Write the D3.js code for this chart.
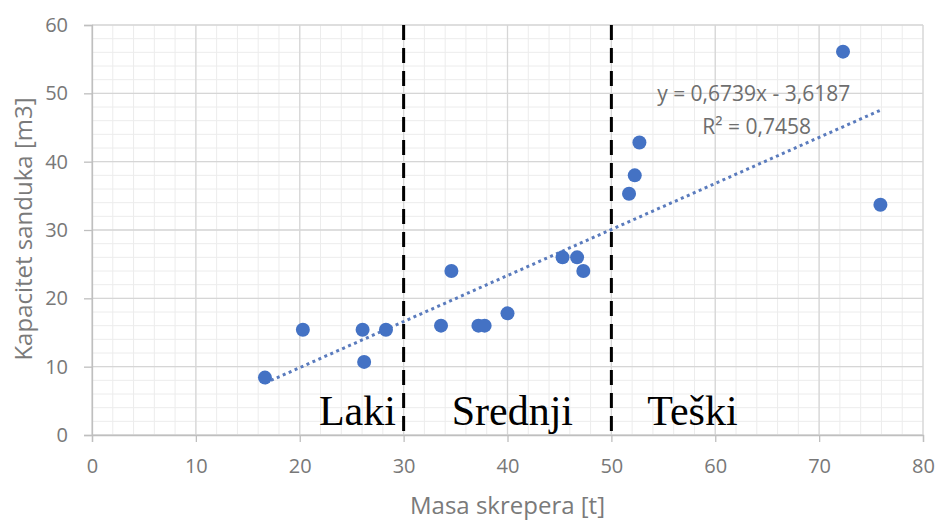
<!DOCTYPE html>
<html>
<head>
<meta charset="utf-8">
<script src="https://cdn.jsdelivr.net/npm/d3@7"></script>
<style>
    html, body { margin: 0; padding: 0; background: #fff; }
    svg { display: block; }
</style>
</head>
<body>
<div id="chart"></div>
<script>
(function () {
    // masa skrepera [t] / kapacitet sanduka [m3]
    const masa = [16.65, 20.3, 26.05, 26.2, 28.3, 33.6, 34.6, 37.2, 37.8, 40.0,
                  45.3, 46.7, 47.3, 51.7, 52.25, 52.7, 72.3, 75.9];
    const kapacitet = [8.4, 15.4, 15.4, 10.7, 15.4, 16.0, 24.0, 16.0, 16.0, 17.8,
                       26.0, 26.0, 24.0, 35.3, 38.0, 42.8, 56.1, 33.7];

    const xTicks = [0, 10, 20, 30, 40, 50, 60, 70, 80];
    const yTicks = [0, 10, 20, 30, 40, 50, 60];

    const trendSlope = 0.6739;
    const trendIntercept = -3.6187;
    const trendText = ['y = 0,6739x - 3,6187', 'R\u00b2 = 0,7458'];

    const classBounds = [30, 50];
    const classNames = ['Laki', 'Srednji', 'Te\u0161ki'];

    const width = 939, height = 522;
    const margin = {top: 25, right: 16, bottom: 87, left: 92};
    const plot_w = width - margin.left - margin.right;
    const plot_h = height - margin.top - margin.bottom;

    const sans = "'Open Sans', 'DejaVu Sans', sans-serif";
    const blue = '#4472c4';

    var svg = d3.select('#chart').append('svg')
        .attr('width', width)
        .attr('height', height);

    var x = d3.scaleLinear().domain([0, 80]).range([0, plot_w]);
    var y = d3.scaleLinear().domain([0, 60]).range([plot_h, 0]);

    var g = svg.append('g')
        .attr('transform', `translate(${margin.left},${margin.top})`);

    // minor grid, every 2 units
    var xMinor = d3.range(0, 80.01, 2);
    var yMinor = d3.range(0, 60.01, 2);
    g.append('g').selectAll('line').data(xMinor).enter().append('line')
        .attr('x1', d => x(d)).attr('x2', d => x(d))
        .attr('y1', 0).attr('y2', plot_h)
        .attr('stroke', '#ececec').attr('stroke-width', 1);
    g.append('g').selectAll('line').data(yMinor).enter().append('line')
        .attr('x1', 0).attr('x2', plot_w)
        .attr('y1', d => y(d)).attr('y2', d => y(d))
        .attr('stroke', '#ececec').attr('stroke-width', 1);

    // major grid
    g.append('g').selectAll('line').data(xTicks).enter().append('line')
        .attr('x1', d => x(d)).attr('x2', d => x(d))
        .attr('y1', 0).attr('y2', plot_h)
        .attr('stroke', '#d6d6d6').attr('stroke-width', 1.3);
    g.append('g').selectAll('line').data(yTicks).enter().append('line')
        .attr('x1', 0).attr('x2', plot_w)
        .attr('y1', d => y(d)).attr('y2', d => y(d))
        .attr('stroke', '#d6d6d6').attr('stroke-width', 1.3);

    // axes
    var xAxis = d3.axisBottom(x).tickValues(xTicks).tickSize(7).tickPadding(17);
    var yAxis = d3.axisLeft(y).tickValues(yTicks).tickSize(8).tickPadding(16);

    var gx = g.append('g')
        .attr('transform', `translate(0,${plot_h})`)
        .call(xAxis);
    var gy = g.append('g').call(yAxis);

    [gx, gy].forEach(function (a) {
        a.select('.domain').attr('stroke', '#bfbfbf').attr('stroke-width', 1.3);
        a.selectAll('.tick line').attr('stroke', '#bfbfbf').attr('stroke-width', 1.3);
        a.selectAll('.tick text')
            .attr('fill', '#787878')
            .style('font-family', sans)
            .style('font-size', '20px');
    });

    // class boundaries
    g.append('g').selectAll('line').data(classBounds).enter().append('line')
        .attr('x1', d => x(d)).attr('x2', d => x(d))
        .attr('y1', 0).attr('y2', plot_h)
        .attr('stroke', '#000')
        .attr('stroke-width', 3)
        .attr('stroke-dasharray', '15,8');

    // trendline over data range
    var xmin = d3.min(masa), xmax = d3.max(masa);
    g.append('line')
        .attr('x1', x(xmin)).attr('y1', y(trendSlope * xmin + trendIntercept))
        .attr('x2', x(xmax)).attr('y2', y(trendSlope * xmax + trendIntercept))
        .attr('stroke', '#5a7bbd')
        .attr('stroke-width', 3)
        .attr('stroke-dasharray', '3,3.5');

    // points
    var pts = masa.map(function (m, i) { return {x: m, y: kapacitet[i]}; });
    g.append('g').selectAll('circle').data(pts).enter().append('circle')
        .attr('cx', d => x(d.x))
        .attr('cy', d => y(d.y))
        .attr('r', 7)
        .attr('fill', blue);

    // equation label
    var eq = g.append('g')
        .attr('transform', `translate(${x(63.7)},0)`);
    eq.selectAll('text').data(trendText).enter().append('text')
        .attr('x', (d, i) => i === 0 ? 0 : 3)
        .attr('y', (d, i) => 76 + i * 33)
        .attr('text-anchor', 'middle')
        .attr('fill', '#6e6e6e')
        .style('font-family', sans)
        .style('font-size', '21px')
        .text(d => d);

    // class names
    var classX = [25.55, 40.47, 57.8];
    g.append('g').selectAll('text').data(classNames).enter().append('text')
        .attr('x', (d, i) => x(classX[i]))
        .attr('y', plot_h - 10)
        .attr('text-anchor', 'middle')
        .attr('fill', '#000')
        .style('font-family', "'Liberation Serif', 'DejaVu Serif', serif")
        .style('font-size', '42px')
        .text(d => d);

    // axis titles
    svg.append('text')
        .attr('x', margin.left + x(40))
        .attr('y', 514)
        .attr('text-anchor', 'middle')
        .attr('fill', '#7a7a7a')
        .style('font-family', sans)
        .style('font-size', '24px')
        .text('Masa skrepera [t]');

    svg.append('text')
        .attr('transform', 'translate(32,229) rotate(-90)')
        .attr('text-anchor', 'middle')
        .attr('fill', '#7a7a7a')
        .style('font-family', sans)
        .style('font-size', '24px')
        .text('Kapacitet sanduka [m3]');
})();
</script>
</body>
</html>
